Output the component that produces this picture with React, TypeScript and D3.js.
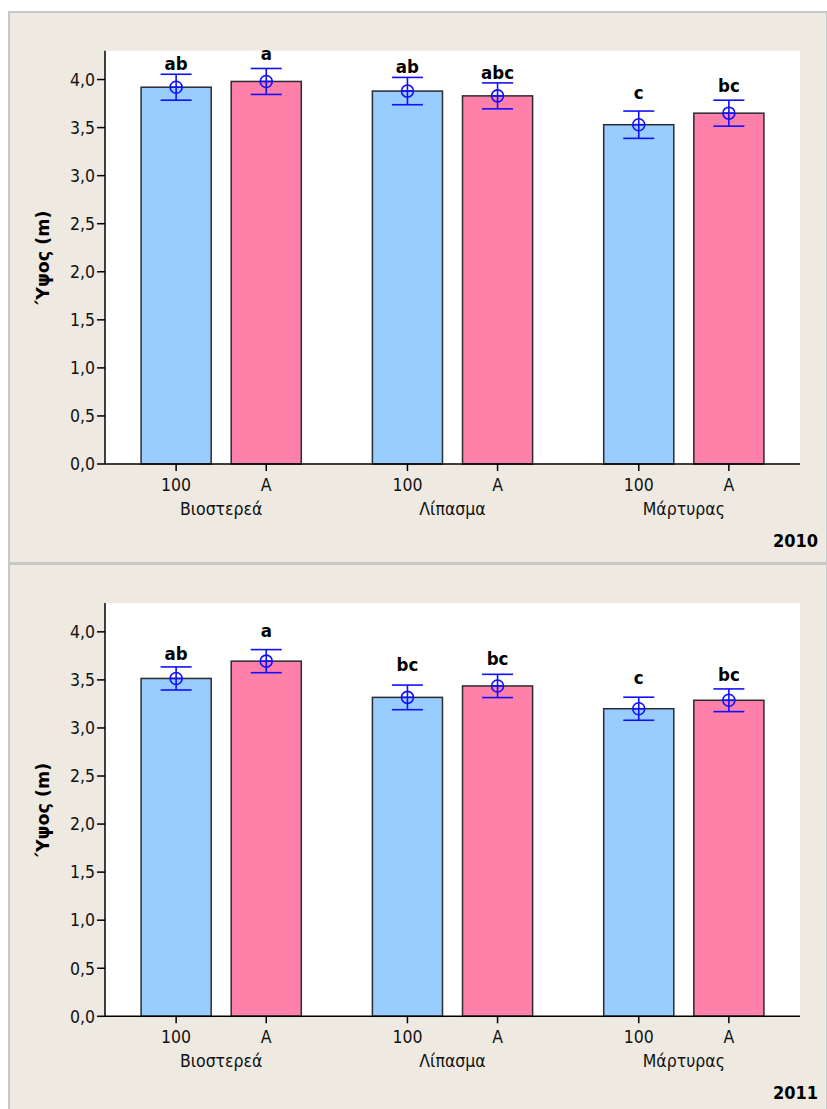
import React from "react";
import * as d3 from "d3";

const groups = ["Βιοστερεά", "Λίπασμα", "Μάρτυρας"];
const subs = ["100", "A"];
const yTicks = [0, 0.5, 1, 1.5, 2, 2.5, 3, 3.5, 4];

// 2010
const means2010 = [3.92, 3.98, 3.88, 3.83, 3.53, 3.65];
const ci2010 = [0.135, 0.135, 0.142, 0.135, 0.142, 0.135];
const letters2010 = ["ab", "a", "ab", "abc", "c", "bc"];
const letterPos2010 = [4.097, 4.2, 4.07, 4.003, 3.8, 3.87];

// 2011
const means2011 = [3.515, 3.695, 3.318, 3.437, 3.2, 3.288];
const ci2011 = [0.12, 0.12, 0.128, 0.121, 0.12, 0.118];
const letters2011 = ["ab", "a", "bc", "bc", "c", "bc"];
const letterPos2011 = [3.711, 3.946, 3.589, 3.659, 3.46, 3.489];

const years = ["2010", "2011"];

const FONT = "'DejaVu Sans Condensed', 'DejaVu Sans', sans-serif";
const FONT_WIDE = "'DejaVu Sans', sans-serif";
const BG = "#EEEAE1";
const BLUE = "#99CCFF";
const PINK = "#FF80A8";
const ERR = "#1010FF";

type PanelProps = {
  top: number;
  height: number;
  plotTop: number;
  plotBottom: number;
  means: number[];
  ci: number[];
  letters: string[];
  letterPos: number[];
  year: string;
};

function Panel(p: PanelProps) {
  const left = 105;
  const right = 800;
  const x0 = d3.scaleBand<string>().domain(groups).range([left, right]).paddingInner(0.3074).paddingOuter(0.156);
  const x1 = d3.scaleBand<string>().domain(subs).range([0, x0.bandwidth()]).paddingInner(0.2222).paddingOuter(0);
  const y = d3.scaleLinear().domain([0, 4.3]).range([p.plotBottom, p.plotTop]);
  const fmt = (v: number) => d3.format(".1f")(v).replace(".", ",");
  const bars: { g: string; s: string; i: number }[] = [];
  groups.forEach((g, gi) => subs.forEach((s, si) => bars.push({ g, s, i: gi * 2 + si })));
  return (
    <g>
      <rect x={9} y={p.top} width={827 - 9} height={p.height} fill={BG} stroke="#C8C8C8" strokeWidth={2} />
      <rect x={left} y={p.plotTop} width={right - left} height={p.plotBottom - p.plotTop} fill="#fff" />
      {bars.map((b) => {
        const bx = (x0(b.g) as number) + (x1(b.s) as number);
        const bw = x1.bandwidth();
        const cx = bx + bw / 2;
        const m = p.means[b.i];
        const c = p.ci[b.i];
        return (
          <g key={b.i}>
            <rect x={bx} y={y(m)} width={bw} height={y(0) - y(m)} fill={b.s === "100" ? BLUE : PINK} stroke="#2a2a33" strokeWidth={1.5} />
            <line x1={cx} x2={cx} y1={y(m + c)} y2={y(m - c)} stroke={ERR} strokeWidth={1.6} />
            <line x1={cx - 15.5} x2={cx + 15.5} y1={y(m + c)} y2={y(m + c)} stroke={ERR} strokeWidth={1.6} />
            <line x1={cx - 15.5} x2={cx + 15.5} y1={y(m - c)} y2={y(m - c)} stroke={ERR} strokeWidth={1.6} />
            <circle cx={cx} cy={y(m)} r={6} fill="none" stroke={ERR} strokeWidth={1.6} />
            <line x1={cx - 6} x2={cx + 6} y1={y(m)} y2={y(m)} stroke={ERR} strokeWidth={1.6} />
            <text x={cx} y={y(p.letterPos[b.i])} textAnchor="middle" fontFamily={FONT} fontWeight="bold" fontSize={18.5} fill="#000">
              {p.letters[b.i]}
            </text>
            <line x1={cx} x2={cx} y1={p.plotBottom} y2={p.plotBottom + 7} stroke="#000" strokeWidth={1.5} />
            <text x={cx} y={p.plotBottom + 26.5} textAnchor="middle" fontFamily={FONT} fontSize={17.5} fill="#111">
              {b.s}
            </text>
          </g>
        );
      })}
      {groups.map((g) => (
        <text key={g} x={(x0(g) as number) + x0.bandwidth() / 2} y={p.plotBottom + 51} textAnchor="middle" fontFamily={FONT} fontSize={17.5} fill="#111">
          {g}
        </text>
      ))}
      {yTicks.map((t) => (
        <g key={t}>
          <line x1={left - 8} x2={left} y1={y(t)} y2={y(t)} stroke="#000" strokeWidth={1.5} />
          <text x={left - 10} y={y(t)} dy="0.36em" textAnchor="end" fontFamily={FONT} fontSize={17.5} fill="#111">
            {fmt(t)}
          </text>
        </g>
      ))}
      <line x1={left} x2={left} y1={p.plotTop} y2={p.plotBottom} stroke="#000" strokeWidth={1.5} />
      <line x1={left} x2={right} y1={p.plotBottom} y2={p.plotBottom} stroke="#000" strokeWidth={1.5} />
      <text transform={`translate(49,${(p.plotTop + p.plotBottom) / 2}) rotate(-90)`} textAnchor="middle" fontFamily={FONT_WIDE} fontWeight="bold" fontSize={17.5} fill="#000">
        Ύψος (m)
      </text>
      <text x={818} y={p.plotBottom + 82.5} textAnchor="end" fontFamily={FONT} fontWeight="bold" fontSize={18} fill="#000">
        {p.year}
      </text>
    </g>
  );
}

export default function App() {
  return (
    <svg width={827} height={1109} style={{ position: "absolute", left: 0, top: 0, background: "#fff" }}>
      <Panel top={12} height={551} plotTop={50.7} plotBottom={464} means={means2010} ci={ci2010} letters={letters2010} letterPos={letterPos2010} year={years[0]} />
      <Panel top={564} height={560} plotTop={603} plotBottom={1016.3} means={means2011} ci={ci2011} letters={letters2011} letterPos={letterPos2011} year={years[1]} />
    </svg>
  );
}
